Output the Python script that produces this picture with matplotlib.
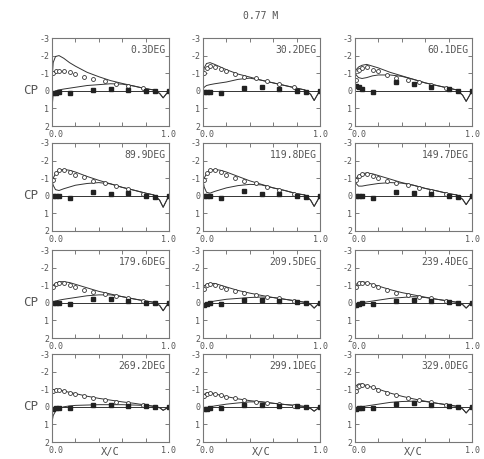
import matplotlib
matplotlib.use("Agg")
import matplotlib.pyplot as plt

# azimuth labels for the 12 panels
azimuth = ["0.3DEG", "30.2DEG", "60.1DEG", "89.9DEG", "119.8DEG", "149.7DEG",
           "179.6DEG", "209.5DEG", "239.4DEG", "269.2DEG", "299.1DEG", "329.0DEG"]

# chordwise stations for the computed curves
xc = [0.0, 0.01, 0.03, 0.06, 0.1, 0.15, 0.2, 0.3, 0.4, 0.5, 0.6, 0.7, 0.8, 0.87, 0.92, 0.95, 0.98, 1.0]

# computed Cp, upper curve (suction peak)
cp_a = [
    [-0.6, -1.6, -1.95, -2.0, -1.85, -1.6, -1.4, -1.05, -0.8, -0.58, -0.42, -0.27, -0.12, -0.05, 0.15, 0.4, 0.15, 0.0],
    [-0.8, -1.3, -1.55, -1.6, -1.5, -1.35, -1.2, -0.95, -0.78, -0.6, -0.45, -0.3, -0.15, -0.05, 0.2, 0.55, 0.2, 0.0],
    [-0.9, -1.2, -1.35, -1.45, -1.5, -1.4, -1.3, -1.05, -0.85, -0.65, -0.45, -0.3, -0.15, -0.05, 0.25, 0.6, 0.25, 0.0],
    [-0.9, -1.0, -1.25, -1.45, -1.5, -1.45, -1.35, -1.1, -0.88, -0.68, -0.48, -0.32, -0.15, -0.05, 0.25, 0.65, 0.25, 0.0],
    [-0.9, -1.0, -1.25, -1.45, -1.5, -1.45, -1.35, -1.1, -0.85, -0.65, -0.45, -0.3, -0.12, -0.05, 0.25, 0.6, 0.25, 0.0],
    [-0.9, -1.0, -1.15, -1.25, -1.3, -1.25, -1.15, -0.95, -0.75, -0.6, -0.42, -0.28, -0.12, -0.05, 0.2, 0.5, 0.2, 0.0],
    [-0.9, -1.0, -1.1, -1.2, -1.2, -1.15, -1.05, -0.85, -0.65, -0.5, -0.35, -0.22, -0.1, -0.03, 0.15, 0.45, 0.15, 0.0],
    [-0.8, -0.95, -1.05, -1.1, -1.1, -1.0, -0.9, -0.7, -0.55, -0.42, -0.3, -0.2, -0.1, -0.03, 0.1, 0.3, 0.1, 0.0],
    [-0.9, -1.05, -1.15, -1.2, -1.15, -1.05, -0.95, -0.75, -0.58, -0.45, -0.32, -0.2, -0.1, -0.03, 0.1, 0.3, 0.1, 0.0],
    [-0.9, -0.95, -0.95, -0.95, -0.9, -0.82, -0.75, -0.6, -0.48, -0.38, -0.28, -0.2, -0.1, -0.03, 0.05, 0.2, 0.08, 0.0],
    [-0.5, -0.7, -0.8, -0.8, -0.75, -0.65, -0.58, -0.45, -0.35, -0.28, -0.2, -0.13, -0.07, -0.02, 0.1, 0.25, 0.1, 0.0],
    [-0.9, -1.2, -1.3, -1.3, -1.2, -1.1, -1.0, -0.78, -0.6, -0.45, -0.32, -0.2, -0.1, -0.03, 0.12, 0.35, 0.12, 0.0],
]

# computed Cp, second curve (merges with the first aft)
cp_b = [
    [1.0, 0.2, 0.0, -0.05, -0.1, -0.15, -0.2, -0.3, -0.35, -0.4, -0.38, -0.27, -0.12, -0.05, 0.15, 0.4, 0.15, 0.0],
    [-0.1, -0.2, -0.3, -0.35, -0.4, -0.45, -0.5, -0.65, -0.72, -0.6, -0.45, -0.3, -0.15, -0.05, 0.2, 0.55, 0.2, 0.0],
    [-1.1, -0.9, -0.75, -0.7, -0.75, -0.85, -0.9, -0.9, -0.82, -0.65, -0.45, -0.3, -0.15, -0.05, 0.25, 0.6, 0.25, 0.0],
    [-0.9, -0.6, -0.35, -0.3, -0.4, -0.5, -0.6, -0.7, -0.75, -0.68, -0.48, -0.32, -0.15, -0.05, 0.25, 0.65, 0.25, 0.0],
    [-0.9, -0.5, -0.2, -0.15, -0.25, -0.35, -0.45, -0.58, -0.65, -0.62, -0.45, -0.3, -0.12, -0.05, 0.25, 0.6, 0.25, 0.0],
    [-0.9, -0.7, -0.55, -0.55, -0.6, -0.65, -0.7, -0.75, -0.72, -0.6, -0.42, -0.28, -0.12, -0.05, 0.2, 0.5, 0.2, 0.0],
    [0.3, 0.0, -0.1, -0.15, -0.2, -0.25, -0.3, -0.4, -0.45, -0.45, -0.35, -0.22, -0.1, -0.03, 0.15, 0.45, 0.15, 0.0],
    [0.4, 0.1, 0.0, -0.05, -0.1, -0.15, -0.2, -0.25, -0.3, -0.33, -0.3, -0.2, -0.1, -0.03, 0.1, 0.3, 0.1, 0.0],
    [0.5, 0.2, 0.05, 0.0, -0.05, -0.1, -0.15, -0.25, -0.3, -0.35, -0.3, -0.2, -0.1, -0.03, 0.1, 0.3, 0.1, 0.0],
    [0.9, 0.5, 0.25, 0.1, 0.0, -0.05, -0.08, -0.1, -0.12, -0.12, -0.12, -0.1, -0.08, -0.03, 0.05, 0.2, 0.08, 0.0],
    [0.3, 0.1, 0.05, 0.0, -0.05, -0.1, -0.15, -0.22, -0.28, -0.28, -0.2, -0.13, -0.07, -0.02, 0.1, 0.25, 0.1, 0.0],
    [0.4, 0.15, 0.05, 0.0, -0.05, -0.1, -0.15, -0.25, -0.3, -0.32, -0.3, -0.2, -0.1, -0.03, 0.12, 0.35, 0.12, 0.0],
]

# measured Cp, upper surface (open symbols)
xu = [0.01, 0.03, 0.06, 0.1, 0.15, 0.2, 0.27, 0.35, 0.45, 0.55, 0.65, 0.78]
cp_up = [
    [-1.0, -1.1, -1.15, -1.1, -1.05, -0.95, -0.8, -0.65, -0.55, -0.4, -0.3, -0.15],
    [-1.0, -1.3, -1.4, -1.35, -1.25, -1.1, -0.95, -0.8, -0.7, -0.55, -0.4, -0.2],
    [-0.6, -1.2, -1.3, -1.35, -1.2, -1.1, -0.9, -0.75, -0.6, -0.5, -0.35, -0.15],
    [-0.9, -1.3, -1.45, -1.45, -1.35, -1.2, -1.05, -0.85, -0.75, -0.55, -0.4, -0.1],
    [-0.9, -1.3, -1.45, -1.45, -1.35, -1.2, -1.0, -0.85, -0.7, -0.5, -0.35, -0.1],
    [-0.9, -1.1, -1.25, -1.25, -1.15, -1.0, -0.85, -0.7, -0.6, -0.45, -0.3, -0.1],
    [-0.9, -1.05, -1.15, -1.1, -1.0, -0.9, -0.75, -0.6, -0.5, -0.38, -0.25, -0.1],
    [-0.8, -1.0, -1.05, -1.0, -0.9, -0.8, -0.65, -0.55, -0.45, -0.35, -0.25, -0.1],
    [-0.9, -1.1, -1.15, -1.1, -1.0, -0.9, -0.72, -0.58, -0.45, -0.35, -0.25, -0.1],
    [-0.9, -0.95, -0.95, -0.9, -0.8, -0.72, -0.6, -0.5, -0.4, -0.3, -0.22, -0.1],
    [-0.6, -0.75, -0.8, -0.75, -0.65, -0.58, -0.48, -0.38, -0.3, -0.22, -0.15, -0.05],
    [-0.9, -1.2, -1.25, -1.2, -1.1, -0.98, -0.8, -0.65, -0.5, -0.38, -0.28, -0.12],
]

# measured Cp, lower surface (filled symbols)
xl = [0.01, 0.03, 0.06, 0.15, 0.35, 0.5, 0.65, 0.8, 0.88, 1.0]
cp_lo = [
    [0.1, 0.1, 0.05, 0.1, -0.05, -0.1, -0.05, 0.0, 0.0, 0.0],
    [0.05, 0.05, 0.05, 0.1, -0.15, -0.2, -0.1, 0.0, 0.05, 0.0],
    [-0.3, -0.2, -0.1, 0.05, -0.5, -0.4, -0.2, -0.1, 0.0, 0.0],
    [0.0, 0.0, 0.0, 0.1, -0.2, -0.1, -0.15, 0.0, 0.05, 0.0],
    [0.0, 0.0, 0.0, 0.1, -0.25, -0.1, -0.1, 0.0, 0.05, 0.0],
    [0.0, 0.0, 0.0, 0.1, -0.2, -0.15, -0.1, 0.0, 0.05, 0.0],
    [0.0, 0.0, 0.0, 0.05, -0.2, -0.2, -0.1, 0.0, 0.0, 0.0],
    [0.1, 0.05, 0.0, 0.05, -0.15, -0.15, -0.1, -0.05, 0.0, 0.0],
    [0.1, 0.05, 0.0, 0.05, -0.1, -0.15, -0.1, -0.05, 0.0, 0.0],
    [0.1, 0.05, 0.05, 0.05, -0.1, -0.1, -0.05, -0.05, 0.0, 0.0],
    [0.1, 0.1, 0.05, 0.05, -0.1, -0.1, -0.05, -0.05, 0.0, 0.0],
    [0.1, 0.05, 0.05, 0.05, -0.15, -0.2, -0.1, -0.05, 0.0, 0.0],
]

W, H = 484, 459
fig = plt.figure(figsize=(W / 100, H / 100), dpi=100)
mono = "DejaVu Sans Mono"
txt = "#555555"
col_left = [52, 203, 355]
row_top = [38, 143, 250, 354]
aw, ah = 117, 88

for i in range(12):
    r, c = divmod(i, 3)
    ax = fig.add_axes([col_left[c] / W, 1 - (row_top[r] + ah) / H, aw / W, ah / H])
    ax.axhline(0, color="#333333", lw=0.7)
    ax.plot(xc, cp_a[i], color="#333333", lw=0.7)
    ax.plot(xc, cp_b[i], color="#333333", lw=0.7)
    ax.plot(xu, cp_up[i], "o", ms=2.8, mfc="white", mec="#333333", mew=0.6)
    ax.plot(xl, cp_lo[i], "s", ms=2.4, color="#222222")
    ax.set_xlim(0, 1)
    ax.set_ylim(2, -3)
    ax.set_xticks([0.2, 0.4, 0.6, 0.8])
    ax.set_xticklabels([])
    ax.set_yticks([-3, -2, -1, 0, 1, 2])
    ax.set_yticklabels(["-3", "-2", "-1", "0", "1", "2"], fontfamily=mono, fontsize=6, color=txt)
    ax.tick_params(direction="in", top=True, right=True, length=3, width=0.6, color="#666666", pad=2)
    for s in ax.spines.values():
        s.set_color("#777777")
        s.set_linewidth(0.8)
    ax.text(0.97, 0.92, azimuth[i], transform=ax.transAxes, ha="right", va="top",
            fontfamily=mono, fontsize=7, color=txt)
    ax.text(0.03, -0.05, "0.0", transform=ax.transAxes, ha="center", va="top",
            fontfamily=mono, fontsize=6, color=txt)
    ax.text(1.0, -0.05, "1.0", transform=ax.transAxes, ha="center", va="top",
            fontfamily=mono, fontsize=6, color=txt)
    if c == 0:
        ax.text(-0.12, 0.4, "CP", transform=ax.transAxes, ha="right", va="center",
                fontfamily=mono, fontsize=9, color=txt)
    if r == 3:
        ax.text(0.5, -0.06, "X/C", transform=ax.transAxes, ha="center", va="top",
                fontfamily=mono, fontsize=7.5, color=txt)

fig.text(261 / W, 1 - 16 / H, "0.77 M", ha="center", va="center", fontfamily=mono, fontsize=7, color=txt)

fig.savefig("out.png", dpi=100)
